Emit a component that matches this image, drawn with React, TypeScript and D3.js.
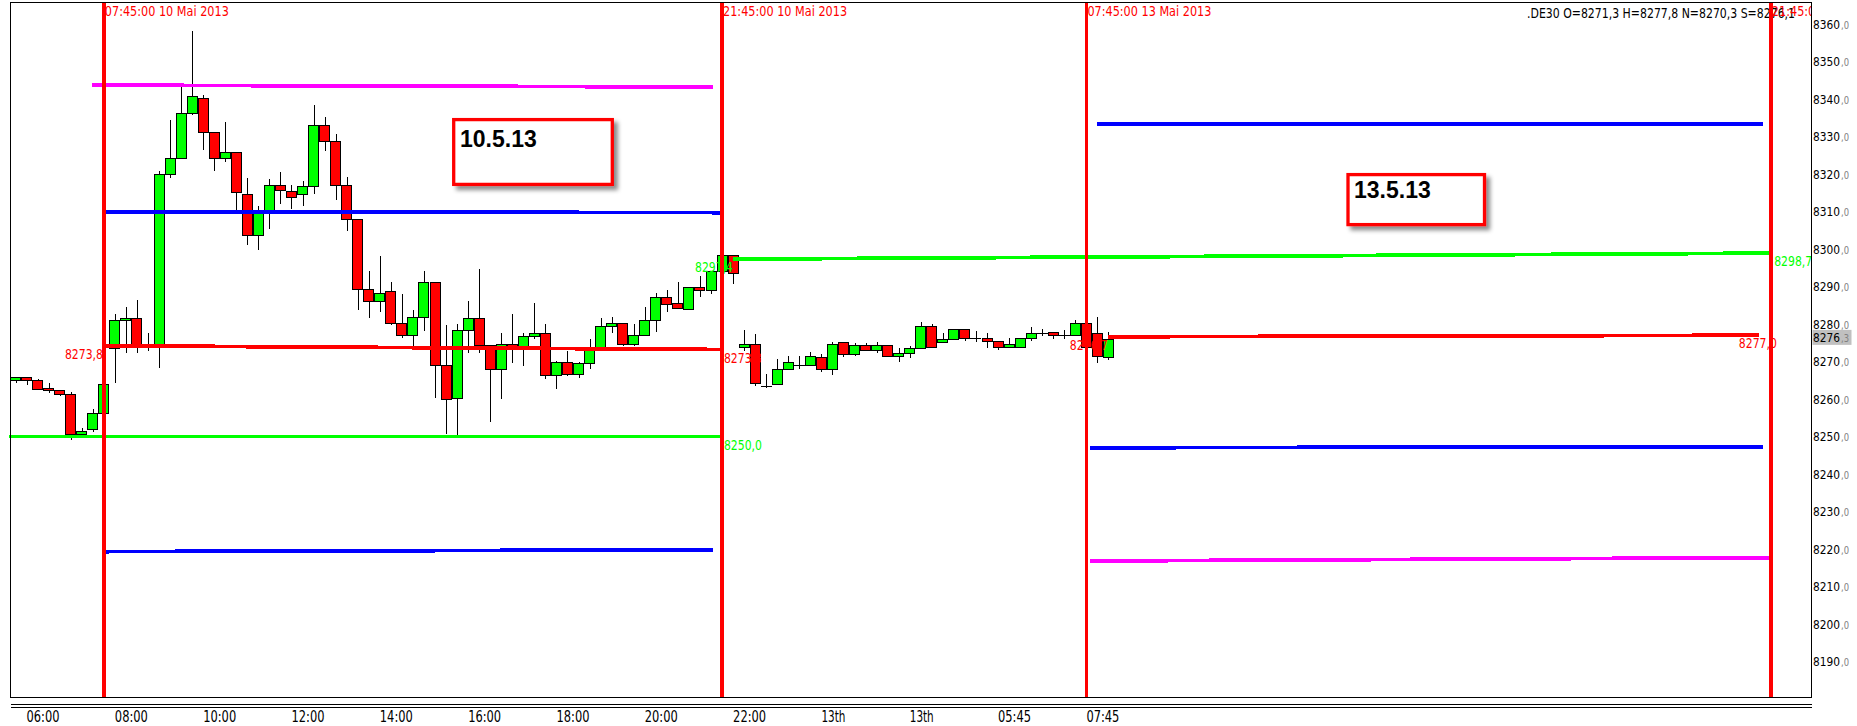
import React from "react";
import * as d3 from "d3";

const W = 1857;
const H = 726;

// 15-minute candles, index 0 = 05:45 on 10 Mai 2013
const opens = [
  8265.1, 8265.9, 8265.1, 8262.9, 8262.4, 8261.2, 8250.8, 8251.9, 8256.4, 8273.5,
  8281.0, 8281.5, 8274.0, 8274.4, 8319.9, 8324.2, 8336.4, 8340.4, 8331.1, 8324.4,
  8326.0, 8314.7, 8303.6, 8310.4, 8317.0, 8315.4, 8314.6, 8316.7, 8333.0, 8328.7,
  8317.0, 8307.9, 8289.2, 8286.1, 8288.7, 8280.2, 8277.0, 8281.8, 8291.1, 8269.0,
  8260.2, 8278.3, 8281.5, 8274.3, 8267.9, 8274.8, 8273.5, 8276.7, 8277.5, 8266.3,
  8270.0, 8266.6, 8269.5, 8274.0, 8279.4, 8280.2, 8274.8, 8277.0, 8281.0, 8287.1,
  8285.5, 8284.1, 8290.0, 8289.0, 8294.1, 8298.4, 8273.8, 8274.8, 8263.5, 8263.9,
  8267.9, 8269.0, 8269.0, 8271.1, 8267.9, 8275.1, 8271.9, 8274.5, 8273.0, 8274.5,
  8271.4, 8272.4, 8273.5, 8279.4, 8275.1, 8275.9, 8278.6, 8276.4, 8276.4, 8275.4,
  8274.0, 8274.0, 8276.4, 8277.5, 8278.0, 8277.0, 8277.0, 8280.4, 8277.5, 8271.3,
];
const highs = [
  8265.9, 8265.9, 8265.3, 8264.4, 8262.4, 8261.9, 8252.4, 8257.4, 8264.2, 8282.7,
  8284.6, 8286.4, 8277.7, 8320.9, 8334.4, 8343.3, 8358.1, 8341.1, 8331.1, 8334.0,
  8326.0, 8318.9, 8311.6, 8318.6, 8320.5, 8317.1, 8318.1, 8338.4, 8335.2, 8330.7,
  8319.2, 8307.9, 8294.1, 8298.1, 8291.2, 8288.0, 8283.7, 8294.1, 8291.1, 8279.7,
  8280.0, 8286.1, 8294.7, 8274.3, 8277.5, 8282.7, 8277.5, 8285.6, 8280.0, 8270.2,
  8272.8, 8270.0, 8275.9, 8281.6, 8282.0, 8280.2, 8280.0, 8284.5, 8288.2, 8289.2,
  8291.2, 8290.0, 8292.8, 8294.1, 8298.4, 8298.4, 8278.4, 8277.3, 8266.7, 8270.8,
  8271.5, 8271.5, 8272.6, 8272.0, 8275.2, 8275.1, 8275.0, 8275.0, 8275.1, 8274.5,
  8273.6, 8274.2, 8280.6, 8279.9, 8277.5, 8278.6, 8278.6, 8278.1, 8277.5, 8275.4,
  8276.4, 8276.4, 8279.1, 8278.6, 8278.0, 8278.4, 8281.1, 8281.0, 8281.8, 8277.8,
];
const lows = [
  8264.4, 8263.7, 8262.7, 8261.7, 8260.8, 8249.2, 8250.5, 8251.3, 8256.0, 8264.4,
  8272.4, 8272.2, 8272.9, 8268.2, 8319.0, 8324.2, 8335.7, 8326.4, 8320.9, 8323.3,
  8310.4, 8301.1, 8299.7, 8305.3, 8312.0, 8310.7, 8311.5, 8314.6, 8326.2, 8313.1,
  8304.8, 8283.7, 8281.5, 8283.3, 8279.7, 8276.4, 8274.2, 8278.2, 8260.4, 8250.7,
  8250.4, 8272.2, 8272.4, 8253.8, 8259.9, 8269.7, 8268.9, 8276.0, 8265.4, 8262.8,
  8266.1, 8265.7, 8267.9, 8274.0, 8277.5, 8274.2, 8274.1, 8277.0, 8277.9, 8283.3,
  8284.1, 8284.1, 8287.3, 8288.0, 8294.1, 8290.8, 8272.9, 8263.6, 8263.0, 8263.9,
  8267.9, 8267.9, 8269.0, 8267.3, 8266.5, 8271.1, 8271.4, 8273.0, 8272.4, 8271.3,
  8269.8, 8270.9, 8273.5, 8274.0, 8275.1, 8275.9, 8275.4, 8275.3, 8273.5, 8273.0,
  8274.0, 8274.0, 8275.4, 8276.8, 8276.0, 8276.0, 8277.0, 8273.5, 8269.6, 8270.3,
];
const closes = [
  8265.9, 8265.1, 8262.8, 8262.4, 8261.2, 8250.8, 8251.4, 8256.4, 8263.9, 8281.0,
  8281.5, 8274.4, 8274.6, 8319.9, 8324.2, 8336.4, 8340.7, 8331.1, 8324.2, 8326.0,
  8315.3, 8303.6, 8310.4, 8317.0, 8315.6, 8314.0, 8316.7, 8333.0, 8328.7, 8317.0,
  8307.9, 8289.2, 8286.1, 8288.4, 8280.2, 8277.0, 8281.8, 8291.1, 8269.0, 8259.9,
  8278.3, 8281.5, 8274.3, 8267.9, 8274.8, 8274.0, 8276.7, 8277.5, 8266.3, 8270.0,
  8266.6, 8269.5, 8274.0, 8279.4, 8280.2, 8274.8, 8277.0, 8281.0, 8287.1, 8285.2,
  8284.4, 8290.0, 8289.0, 8294.1, 8298.4, 8293.5, 8274.8, 8264.2, 8263.5, 8267.9,
  8270.0, 8269.0, 8271.4, 8267.9, 8274.6, 8272.0, 8274.5, 8273.0, 8274.5, 8271.4,
  8272.4, 8273.5, 8279.4, 8274.0, 8275.9, 8278.6, 8276.4, 8276.4, 8275.4, 8274.0,
  8274.6, 8276.4, 8277.5, 8277.5, 8277.0, 8277.0, 8280.4, 8273.8, 8271.4, 8276.1,
];

const xTickIndex = [1, 9, 17, 25, 33, 41, 49, 57, 65, 73, 81, 89, 97];
const xTickText = ["06:00", "08:00", "10:00", "12:00", "14:00", "16:00", "18:00", "20:00", "22:00", "13th", "13th", "05:45", "07:45"];

const yTickValues = [8360, 8350, 8340, 8330, 8320, 8310, 8300, 8290, 8280, 8270, 8260, 8250, 8240, 8230, 8220, 8210, 8200, 8190];

const sessionIndex = [8, 64, 97, 159];
const sessionText = ["07:45:00 10 Mai 2013", "21:45:00 10 Mai 2013", "07:45:00 13 Mai 2013", "21:45:00 13 Mai 2013"];

// pivot-style level lines (start/end in bar index units, start/end price)
const levelColor = ["#ff00ff", "#0000ff", "#ff0000", "#00ff00", "#0000ff", "#0000ff", "#00ff00", "#ff0000", "#0000ff", "#ff00ff"];
const levelStartIndex = [6.9, 8.2, 8.2, -0.62, 8.0, 98.0, 65.0, 98.96, 97.3, 97.3];
const levelEndIndex = [63.2, 64, 64, 64, 63.2, 158.3, 159.1, 157.9, 158.3, 158.9];
const levelStartValue = [8343.7, 8309.95, 8274.2, 8250.0, 8219.3, 8333.3, 8297.3, 8276.6, 8247.0, 8216.8];
const levelEndValue = [8343.2, 8309.7, 8273.2, 8250.0, 8219.8, 8333.3, 8298.9, 8277.0, 8247.3, 8217.7];

const priceLabelText = ["8273,8", "8297,4", "8273,3", "8250,0", "8276,7", "8298,7", "8277,0"];
const priceLabelColor = ["#ff0000", "#00ff00", "#ff0000", "#00ff00", "#ff0000", "#00ff00", "#ff0000"];
const priceLabelIndex = [4.48, 61.55, 64.17, 64.17, 95.5, 159.3, 156.1];
const priceLabelValue = [8274.2, 8297.3, 8273.2, 8250.0, 8276.6, 8298.9, 8277.0];

const headerText = ".DE30 O=8271,3 H=8277,8 N=8270,3 S=8276,1";
const lastPrice = 8276.3;

const NARROW = "'Liberation Sans Narrow','Arial Narrow','DejaVu Sans Condensed','Liberation Sans',sans-serif";
const BOLD = "'Liberation Sans',Arial,sans-serif";

const FRAME_L = 10.5;
const FRAME_R = 1811.5;
const FRAME_T = 2.5;
const FRAME_B = 697.5;

export default function App() {
  const x = d3.scaleLinear().domain([0, 159]).range([15.5, 15.5 + 159 * 11.04]);
  const y = d3.scaleLinear().domain([8190, 8360]).range([661.5, 24]);

  const candles = opens.map((o, i) => ({ o, h: highs[i], l: lows[i], c: closes[i], i }));

  const px = (v: number) => Math.round(v) + 0.5;

  return (
    <svg
      width={W}
      height={H}
      viewBox={`0 0 ${W} ${H}`}
      style={{ position: "absolute", left: 0, top: 0, background: "#fff" }}
    >
      <defs>
        <filter id="boxShadow" x="-10%" y="-10%" width="130%" height="140%">
          <feDropShadow dx="4" dy="4" stdDeviation="2" floodColor="#000" floodOpacity="0.45" />
        </filter>
        <clipPath id="plotClip">
          <rect x={FRAME_L} y={FRAME_T} width={FRAME_R - FRAME_L} height={FRAME_B - FRAME_T} />
        </clipPath>
      </defs>
      <rect x={0} y={0} width={W} height={H} fill="#fff" />

      {/* session labels at top (under the vertical lines) */}
      <g clipPath="url(#plotClip)">
        <text
          x={1527}
          y={17.5}
          fill="#000"
          fontFamily={NARROW}
          fontSize={14.5}
          textLength={268}
          lengthAdjust="spacingAndGlyphs"
        >
          {headerText}
        </text>
        {sessionIndex.map((si, k) => (
          <text
            key={"st" + k}
            x={x(si) + 1}
            y={15.7}
            fill="#ff0000"
            fontFamily={NARROW}
            fontSize={14.5}
            textLength={124}
            lengthAdjust="spacingAndGlyphs"
          >
            {sessionText[k]}
          </text>
        ))}
      </g>

      {/* candles */}
      <g shapeRendering="crispEdges">
        {candles.map((d) => {
          const cx = x(d.i);
          const wx = px(cx);
          const left = Math.round(cx - 5.5) + 0.5;
          const top = y(Math.max(d.o, d.c));
          const bot = y(Math.min(d.o, d.c));
          const doji = Math.abs(d.o - d.c) < 0.15;
          const fill = d.c > d.o ? "#00ff00" : "#ff0000";
          return (
            <g key={"c" + d.i}>
              <line x1={wx} x2={wx} y1={y(d.h)} y2={y(d.l)} stroke="#000" strokeWidth={1} />
              {doji ? (
                <rect x={left - 0.5} y={Math.round(top) - 0.5} width={11} height={1.5} fill="#000" />
              ) : (
                <rect
                  x={left}
                  y={Math.round(top) + 0.5}
                  width={10}
                  height={Math.max(1, Math.round(bot) - Math.round(top))}
                  fill={fill}
                  stroke="#000"
                  strokeWidth={1}
                />
              )}
            </g>
          );
        })}
      </g>

      {/* level lines */}
      <g shapeRendering="crispEdges">
        {levelColor.map((col, k) => (
          <line
            key={"lv" + k}
            x1={Math.max(x(levelStartIndex[k]), 8)}
            x2={x(levelEndIndex[k])}
            y1={y(levelStartValue[k])}
            y2={y(levelEndValue[k])}
            stroke={col}
            strokeWidth={3.8}
          />
        ))}
      </g>

      {/* price labels */}
      {priceLabelText.map((t, k) => (
        <text
          key={"pl" + k}
          x={x(priceLabelIndex[k])}
          y={y(priceLabelValue[k]) + 13}
          fill={priceLabelColor[k]}
          fontFamily={NARROW}
          fontSize={14}
          textLength={38}
          lengthAdjust="spacingAndGlyphs"
        >
          {t}
        </text>
      ))}

      {/* annotation boxes */}
      <g>
        <rect x={453.7} y={119.6} width={158.6} height={64.8} fill="#fff" stroke="#ff0000" strokeWidth={3.3} filter="url(#boxShadow)" />
        <text x={460} y={146.7} fontFamily={BOLD} fontWeight="bold" fontSize={23} fill="#000">10.5.13</text>
        <rect x={1348} y={174.6} width={136.5} height={50} fill="#fff" stroke="#ff0000" strokeWidth={3.3} filter="url(#boxShadow)" />
        <text x={1354} y={198} fontFamily={BOLD} fontWeight="bold" fontSize={23} fill="#000">13.5.13</text>
      </g>

      {/* session vertical lines */}
      <g shapeRendering="crispEdges">
        {sessionIndex.map((si, k) => (
          <line key={"sv" + k} x1={x(si)} x2={x(si)} y1={FRAME_T} y2={FRAME_B} stroke="#ff0000" strokeWidth={3.6} />
        ))}
      </g>

      {/* frame */}
      <g shapeRendering="crispEdges" fill="none" stroke="#000" strokeWidth={1}>
        <rect x={FRAME_L} y={FRAME_T} width={FRAME_R - FRAME_L} height={FRAME_B - FRAME_T} />
        <line x1={FRAME_L} x2={FRAME_R} y1={704.5} y2={704.5} strokeWidth={1.5} />
        <line x1={FRAME_L} x2={FRAME_R} y1={707.5} y2={707.5} strokeWidth={1.5} />
      </g>

      {/* y axis labels */}
      <g>
        {yTickValues.map((v) => (
          <g key={"yt" + v}>
            <text x={1813} y={y(v) + 4.5} fontFamily={NARROW} fontSize={13} fill="#000" textLength={27} lengthAdjust="spacingAndGlyphs">
              {String(v)}
            </text>
            <text x={1841} y={y(v) + 4.5} fontFamily={NARROW} fontSize={11} fill="#808080" textLength={8} lengthAdjust="spacingAndGlyphs">
              ,0
            </text>
          </g>
        ))}
        <rect x={1812.5} y={y(lastPrice) - 8} width={39} height={15} fill="#c0c0c0" />
        <text x={1813} y={y(lastPrice) + 4.5} fontFamily={NARROW} fontSize={13} fill="#000" textLength={27} lengthAdjust="spacingAndGlyphs">
          {d3.format(".1f")(lastPrice).split(".")[0]}
        </text>
        <text x={1841} y={y(lastPrice) + 4.5} fontFamily={NARROW} fontSize={11} fill="#808080" textLength={8} lengthAdjust="spacingAndGlyphs">
          {"," + d3.format(".1f")(lastPrice).split(".")[1]}
        </text>
      </g>

      {/* x axis labels */}
      <g>
        {xTickIndex.map((ti, k) => (
          <text
            key={"xt" + k}
            x={x(ti)}
            y={721.5}
            fontFamily={NARROW}
            fontSize={15}
            fill="#000"
            textLength={xTickText[k].length === 4 ? 24 : 33}
            lengthAdjust="spacingAndGlyphs"
          >
            {xTickText[k]}
          </text>
        ))}
      </g>
    </svg>
  );
}
